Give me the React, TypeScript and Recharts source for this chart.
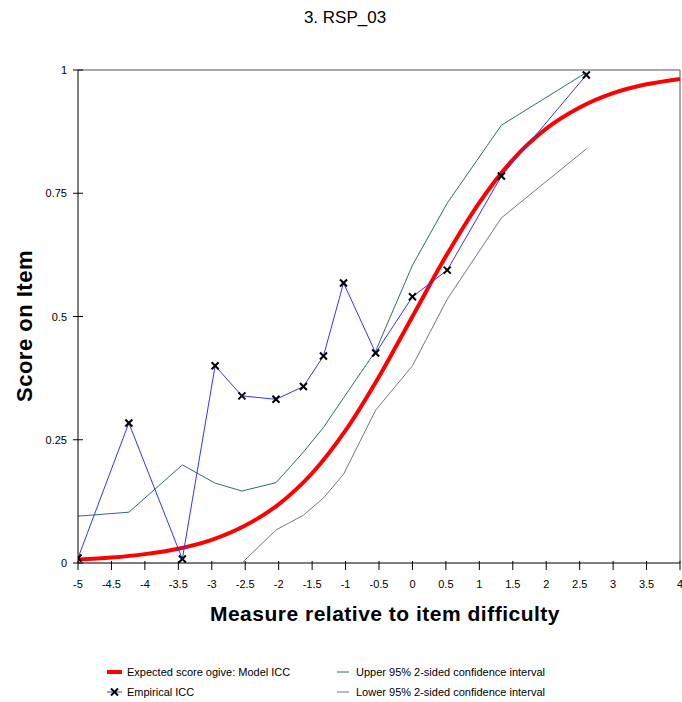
import React from 'react';
import { LineChart, Line, XAxis, YAxis, ReferenceLine } from 'recharts';

// Empirical ICC points (measure, score)
const empiricalX = [-5, -4.24, -3.44, -2.95, -2.55, -2.04, -1.63, -1.33, -1.03, -0.55, 0, 0.52, 1.33, 2.6];
const empiricalY = [0.01, 0.284, 0.008, 0.4, 0.339, 0.332, 0.358, 0.42, 0.568, 0.426, 0.54, 0.594, 0.785, 0.99];
const upperY = [0.095, 0.103, 0.199, 0.162, 0.146, 0.163, 0.225, 0.275, 0.335, 0.43, 0.604, 0.73, 0.888, 0.995];
const lowerY = [0, 0, 0, 0, 0, 0.067, 0.097, 0.132, 0.18, 0.31, 0.4, 0.535, 0.7, 0.84];

// Model ICC
const modelX = [-5, -4.5, -4, -3.5, -3, -2.5, -2, -1.5, -1, -0.5, 0, 0.5, 1, 1.5, 2, 2.5, 3, 3.5, 4];
const modelY = [0.007, 0.011, 0.018, 0.029, 0.047, 0.076, 0.119, 0.182, 0.269, 0.378, 0.5, 0.622, 0.731, 0.818, 0.881, 0.924, 0.953, 0.971, 0.982];

const xTicks = [-5, -4.5, -4, -3.5, -3, -2.5, -2, -1.5, -1, -0.5, 0, 0.5, 1, 1.5, 2, 2.5, 3, 3.5, 4];
const yTicks = [0, 0.25, 0.5, 0.75, 1];

const empiricalData = empiricalX.map((x, i) => ({ x, y: empiricalY[i] }));
const upperData = empiricalX.map((x, i) => ({ x, y: upperY[i] }));
const lowerData = empiricalX.map((x, i) => ({ x, y: lowerY[i] }));
const modelData = modelX.map((x, i) => ({ x, y: modelY[i] }));

const FONT = 'Arial, "Liberation Sans", sans-serif';
const LEFT = 78;
const BOTTOM = 563;

const CrossDot = (props: any) => {
  const { cx, cy } = props;
  if (cx == null || cy == null) return null;
  const s = 3.5;
  return (
    <g>
      <line x1={cx - s} y1={cy - s} x2={cx + s} y2={cy + s} stroke="#000" strokeWidth={2} />
      <line x1={cx - s} y1={cy + s} x2={cx + s} y2={cy - s} stroke="#000" strokeWidth={2} />
    </g>
  );
};

const XTick = (props: any) => {
  const { payload } = props;
  const x = payload.coordinate;
  return (
    <g>
      <line x1={x} y1={BOTTOM - 2} x2={x} y2={BOTTOM + 7} stroke="#000" />
      <text x={x} y={BOTTOM + 25} textAnchor="middle" fontSize={11} fontFamily={FONT} fill="#000">
        {payload.value}
      </text>
    </g>
  );
};

const YTick = (props: any) => {
  const { payload } = props;
  const y = payload.coordinate;
  return (
    <g>
      <line x1={LEFT - 5} y1={y} x2={LEFT + 5} y2={y} stroke="#000" />
      <text x={67} y={y + 4} textAnchor="end" fontSize={11} fontFamily={FONT} fill="#000">
        {payload.value}
      </text>
    </g>
  );
};

const legendText: React.CSSProperties = { position: 'absolute', fontSize: 11, fontFamily: FONT, color: '#000', whiteSpace: 'nowrap', lineHeight: '12px' };

export default function App() {
  return (
    <div style={{ position: 'absolute', left: 0, top: 0, width: 682, height: 702, background: '#fff' }}>
      <div style={{ position: 'absolute', left: 0, width: 690, top: 8, textAlign: 'center', fontSize: 17, fontFamily: FONT }}>
        3. RSP_03
      </div>
      <LineChart width={682} height={702} margin={{ top: 70, right: 2, bottom: 0, left: 0 }}>
        <XAxis
          type="number"
          dataKey="x"
          domain={[-5, 4]}
          ticks={xTicks}
          allowDataOverflow
          height={139}
          axisLine={false}
          tickLine={false}
          tick={<XTick />}
          interval={0}
        />
        <YAxis
          type="number"
          dataKey="y"
          domain={[0, 1]}
          ticks={yTicks}
          width={78}
          stroke="#000"
          tickLine={false}
          tick={<YTick />}
          interval={0}
        />
        <ReferenceLine y={0} stroke="#000" />
        <ReferenceLine y={1} stroke="#555" />
        <ReferenceLine x={4} stroke="#555" />
        <Line data={lowerData} dataKey="y" stroke="#777777" strokeWidth={1} dot={false} isAnimationActive={false} />
        <Line data={upperData} dataKey="y" stroke="#2f6b6b" strokeWidth={1} dot={false} isAnimationActive={false} />
        <Line data={modelData} dataKey="y" type="monotone" stroke="#ff0000" strokeWidth={4} dot={false} isAnimationActive={false} />
        <Line data={empiricalData} dataKey="y" stroke="#3333ff" strokeWidth={1} dot={<CrossDot />} isAnimationActive={false} />
      </LineChart>
      <div style={{ position: 'absolute', left: 0, top: 326, width: 0, height: 0 }}>
        <div style={{ position: 'absolute', transform: 'translate(-50%,-50%) rotate(-90deg)', left: 25, top: 0, fontSize: 22, letterSpacing: 0.5, fontWeight: 'bold', fontFamily: FONT, whiteSpace: 'nowrap' }}>
          Score on Item
        </div>
      </div>
      <div style={{ position: 'absolute', left: 84, width: 602, top: 602, textAlign: 'center', fontSize: 21, letterSpacing: 0.5, fontWeight: 'bold', fontFamily: FONT }}>
        Measure relative to item difficulty
      </div>
      {/* legend */}
      <svg style={{ position: 'absolute', left: 0, top: 660 }} width={682} height={42}>
        <line x1={107} y1={12} x2={122} y2={12} stroke="#ff0000" strokeWidth={4} />
        <line x1={107} y1={32} x2={122} y2={32} stroke="#3333ff" strokeWidth={1} />
        <CrossDot cx={114.5} cy={32} />
        <line x1={337} y1={12} x2={349} y2={12} stroke="#2f6b6b" strokeWidth={1} />
        <line x1={337} y1={32} x2={349} y2={32} stroke="#777777" strokeWidth={1} />
      </svg>
      <div style={{ ...legendText, left: 127, top: 666 }}>Expected score ogive: Model ICC</div>
      <div style={{ ...legendText, left: 127, top: 686 }}>Empirical ICC</div>
      <div style={{ ...legendText, left: 356, top: 666 }}>Upper 95% 2-sided confidence interval</div>
      <div style={{ ...legendText, left: 356, top: 686 }}>Lower 95% 2-sided confidence interval</div>
    </div>
  );
}
